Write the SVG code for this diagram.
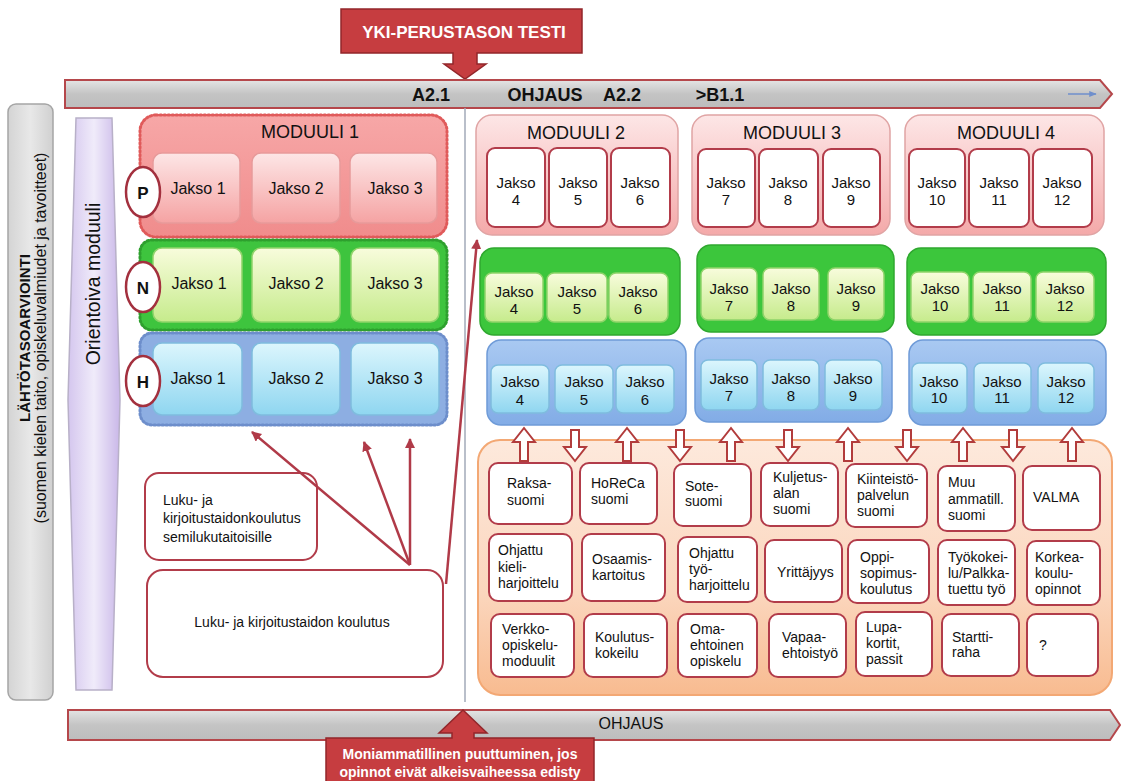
<svg xmlns="http://www.w3.org/2000/svg" width="1122" height="781" viewBox="0 0 1122 781">
<defs>
<linearGradient id="gBar" x1="0" y1="0" x2="0" y2="1"><stop offset="0" stop-color="#e4e4e4"/><stop offset="0.5" stop-color="#c4c4c4"/><stop offset="1" stop-color="#bdbdbd"/></linearGradient>
<linearGradient id="gPinkM1" x1="0" y1="0" x2="0" y2="1"><stop offset="0" stop-color="#f7a7a7"/><stop offset="1" stop-color="#f08c8c"/></linearGradient>
<linearGradient id="gPinkJ" x1="0" y1="0" x2="0" y2="1"><stop offset="0" stop-color="#fde6e6"/><stop offset="1" stop-color="#f5a3a3"/></linearGradient>
<linearGradient id="gGreenJ" x1="0" y1="0" x2="0" y2="1"><stop offset="0" stop-color="#f8fcdc"/><stop offset="1" stop-color="#c6eb8c"/></linearGradient>
<linearGradient id="gBlueJ" x1="0" y1="0" x2="0" y2="1"><stop offset="0" stop-color="#dcf6fd"/><stop offset="1" stop-color="#8fd6f0"/></linearGradient>
<linearGradient id="gBlueBg" x1="0" y1="0" x2="0" y2="1"><stop offset="0" stop-color="#a9c9f2"/><stop offset="1" stop-color="#82ace6"/></linearGradient>
<linearGradient id="gPinkBg" x1="0" y1="0" x2="0" y2="1"><stop offset="0" stop-color="#fde6e6"/><stop offset="1" stop-color="#f4a9a9"/></linearGradient>
<linearGradient id="gOrange" x1="0" y1="0" x2="0" y2="1"><stop offset="0" stop-color="#fde9dc"/><stop offset="0.6" stop-color="#fbd6bd"/><stop offset="1" stop-color="#f8bb90"/></linearGradient>
<linearGradient id="gPurple" x1="0" y1="0" x2="1" y2="0"><stop offset="0" stop-color="#d4c6ee"/><stop offset="0.5" stop-color="#f0ebfa"/><stop offset="1" stop-color="#c9b7e8"/></linearGradient>
<linearGradient id="gGray" x1="0" y1="0" x2="1" y2="0"><stop offset="0" stop-color="#d4d4d4"/><stop offset="0.5" stop-color="#e8e8e8"/><stop offset="1" stop-color="#d0d0d0"/></linearGradient>
<marker id="mArr" viewBox="0 0 10 10" refX="9" refY="5" markerWidth="4" markerHeight="4" orient="auto"><path d="M0,0 L10,5 L0,10 z" fill="#b03a48"/></marker>
<marker id="mBlue" viewBox="0 0 10 10" refX="9" refY="5" markerWidth="5" markerHeight="5" orient="auto"><path d="M0,1 L10,5 L0,9 z" fill="#6f8fcc"/></marker>
</defs>
<style>
text{font-family:"Liberation Sans",Arial,sans-serif;fill:#111;}
.bar{fill:url(#gBar);stroke:#b5474b;stroke-width:2;}
.call{fill:#c63d40;stroke:#92262a;stroke-width:1.5;}
.callT{fill:#fff;font-weight:bold;}
.barT{font-weight:bold;font-size:18px;}
.m1p{fill:url(#gPinkM1);stroke:#e05a5a;stroke-width:3;stroke-dasharray:1.5 2.5;stroke-linecap:round;}
.m1n{fill:#3ec43e;stroke:#2ea02e;stroke-width:3;stroke-dasharray:1.5 2.5;stroke-linecap:round;}
.m1h{fill:#8daee2;stroke:#6d8ecb;stroke-width:3;stroke-dasharray:1.5 2.5;stroke-linecap:round;}
.jp{fill:url(#gPinkJ);stroke:#e79a9a;stroke-width:1.5;}
.jn{fill:url(#gGreenJ);stroke:#8fd46a;stroke-width:1.5;}
.jh{fill:url(#gBlueJ);stroke:#7fbcde;stroke-width:1.5;}
.jw{fill:#fff;stroke:#b23c4a;stroke-width:2;}
.pinkbg{fill:url(#gPinkBg);stroke:#e0a4a4;stroke-width:1.5;}
.greenbg{fill:#3cc63c;stroke:#2fa82f;stroke-width:1.5;}
.bluebg{fill:url(#gBlueBg);stroke:#6f9bd8;stroke-width:1.5;}
.circ{fill:#fff;stroke:#a3303e;stroke-width:2.5;}
.circT{font-weight:bold;font-size:17px;text-anchor:middle;}
.j1{font-size:16px;text-anchor:middle;}
.j2{font-size:15px;text-anchor:middle;}
.mt{font-size:18px;text-anchor:middle;}
.wb{fill:#fff;stroke:#b23c4a;stroke-width:2;}
.bt{font-size:14px;}
.ha{fill:#fff;stroke:#b23c3c;stroke-width:2;stroke-linejoin:miter;}
.ln{stroke:#b03a48;stroke-width:2.5;fill:none;marker-end:url(#mArr);}
</style>

<!-- Top callout -->
<g id="yki-test">
<path class="call" d="M341,9 H582 V53 H477 V64 H486 L465,79 L444,64 H453 V53 H341 Z"/>
<text class="callT" x="464" y="38" font-size="17" text-anchor="middle">YKI-PERUSTASON TESTI</text>
</g>

<!-- Top bar -->
<g id="top-bar">
<path class="bar" d="M65,80 H1100 L1112,94 L1100,108 H65 Z"/>
<text class="barT" x="431" y="101" text-anchor="middle">A2.1</text>
<text class="barT" x="545" y="101" text-anchor="middle">OHJAUS</text>
<text class="barT" x="622" y="101" text-anchor="middle">A2.2</text>
<text class="barT" x="720" y="101" text-anchor="middle">&gt;B1.1</text>
<line x1="1068" y1="94" x2="1096" y2="94" stroke="#6f8fcc" stroke-width="1.5" marker-end="url(#mBlue)"/>
</g>

<!-- Divider -->
<line x1="465" y1="108" x2="465" y2="702" stroke="#a2aab8" stroke-width="1.5"/>

<!-- Left assessment column -->
<g id="lahtotaso">
<rect x="8" y="104" width="45" height="596" rx="8" fill="url(#gGray)" stroke="#a5a5a5" stroke-width="1.5"/>
<text transform="translate(30,338) rotate(-90)" font-size="15" font-weight="bold" text-anchor="middle">LÄHTÖTASOARVIOINTI</text>
<text transform="translate(46,338) rotate(-90)" font-size="16" text-anchor="middle">(suomen kielen taito, opiskeluvalmiudet ja tavoitteet)</text>
</g>

<g id="orientoiva">
<path d="M76,118 L112,118 L120,400 L112,690 L76,690 L68,400 Z" fill="url(#gPurple)" stroke="#b8b0c8" stroke-width="1.5"/>
<text transform="translate(100,284) rotate(-90)" font-size="19.5" text-anchor="middle">Orientoiva moduuli</text>
</g>

<!-- Module 1 -->
<g id="moduuli1-p">
<rect class="m1p" x="140" y="115" width="307" height="122" rx="16"/>
<text class="mt" x="310" y="138">MODUULI 1</text>
<rect class="jp" x="153" y="153" width="87" height="70" rx="9"/>
<rect class="jp" x="252" y="153" width="88" height="70" rx="9"/>
<rect class="jp" x="350" y="153" width="87" height="70" rx="9"/>
<text class="j1" x="198" y="194">Jakso 1</text>
<text class="j1" x="296" y="194">Jakso 2</text>
<text class="j1" x="395" y="194">Jakso 3</text>
</g>
<g id="moduuli1-n">
<rect class="m1n" x="140" y="240" width="307" height="90" rx="12"/>
<rect class="jn" x="153" y="248" width="89" height="74" rx="9"/>
<rect class="jn" x="252" y="248" width="88" height="74" rx="9"/>
<rect class="jn" x="351" y="248" width="88" height="74" rx="9"/>
<text class="j1" x="199" y="289">Jakso 1</text>
<text class="j1" x="296" y="289">Jakso 2</text>
<text class="j1" x="395" y="289">Jakso 3</text>
</g>
<g id="moduuli1-h">
<rect class="m1h" x="140" y="333" width="307" height="92" rx="12"/>
<rect class="jh" x="153" y="343" width="89" height="72" rx="9"/>
<rect class="jh" x="252" y="343" width="88" height="72" rx="9"/>
<rect class="jh" x="351" y="343" width="88" height="72" rx="9"/>
<text class="j1" x="198" y="384">Jakso 1</text>
<text class="j1" x="296" y="384">Jakso 2</text>
<text class="j1" x="395" y="384">Jakso 3</text>
</g>
<g id="circle-p"><ellipse class="circ" cx="143" cy="192" rx="17" ry="25"/><text class="circT" x="143" y="199">P</text></g>
<g id="circle-n"><ellipse class="circ" cx="143" cy="287" rx="17" ry="25"/><text class="circT" x="143" y="294">N</text></g>
<g id="circle-h"><ellipse class="circ" cx="143" cy="381" rx="17" ry="25"/><text class="circT" x="143" y="388">H</text></g>

<!-- Literacy boxes -->
<g id="semilukutaito">
<rect class="wb" x="145" y="473" width="172" height="87" rx="14"/>
<text class="bt" x="163" y="505" font-size="14.5">Luku- ja</text>
<text class="bt" x="163" y="523" font-size="14.5">kirjoitustaidonkoulutus</text>
<text class="bt" x="163" y="542" font-size="14.5">semilukutaitoisille</text>
</g>
<g id="lukutaito">
<rect class="wb" x="147" y="570" width="296" height="107" rx="16"/>
<text class="bt" x="292" y="627" text-anchor="middle">Luku- ja kirjoitustaidon koulutus</text>
</g>

<!-- Modules 2-4 pink -->
<g id="moduuli2-p">
<rect class="pinkbg" x="476" y="115" width="202" height="120" rx="16"/>
<text class="mt" x="576" y="139">MODUULI 2</text>
<rect class="jw" x="487" y="148" width="58" height="79" rx="8"/>
<rect class="jw" x="549" y="148" width="58" height="79" rx="8"/>
<rect class="jw" x="611" y="148" width="59" height="79" rx="8"/>
<text class="j2" x="516" y="188">Jakso</text><text class="j2" x="516" y="205">4</text>
<text class="j2" x="578" y="188">Jakso</text><text class="j2" x="578" y="205">5</text>
<text class="j2" x="640" y="188">Jakso</text><text class="j2" x="640" y="205">6</text>
</g>
<g id="moduuli3-p">
<rect class="pinkbg" x="692" y="115" width="198" height="120" rx="16"/>
<text class="mt" x="792" y="139">MODUULI 3</text>
<rect class="jw" x="698" y="149" width="57" height="78" rx="8"/>
<rect class="jw" x="759" y="149" width="59" height="78" rx="8"/>
<rect class="jw" x="823" y="149" width="57" height="78" rx="8"/>
<text class="j2" x="726" y="188">Jakso</text><text class="j2" x="726" y="205">7</text>
<text class="j2" x="788" y="188">Jakso</text><text class="j2" x="788" y="205">8</text>
<text class="j2" x="851" y="188">Jakso</text><text class="j2" x="851" y="205">9</text>
</g>
<g id="moduuli4-p">
<rect class="pinkbg" x="905" y="115" width="199" height="120" rx="16"/>
<text class="mt" x="1006" y="139">MODUULI 4</text>
<rect class="jw" x="909" y="149" width="56" height="78" rx="8"/>
<rect class="jw" x="969" y="149" width="60" height="78" rx="8"/>
<rect class="jw" x="1033" y="149" width="59" height="78" rx="8"/>
<text class="j2" x="937" y="188">Jakso</text><text class="j2" x="937" y="205">10</text>
<text class="j2" x="999" y="188">Jakso</text><text class="j2" x="999" y="205">11</text>
<text class="j2" x="1062" y="188">Jakso</text><text class="j2" x="1062" y="205">12</text>
</g>

<!-- Green -->
<g id="moduuli2-n">
<rect class="greenbg" x="480" y="248" width="200" height="87" rx="14"/>
<rect class="jn" x="485" y="273" width="58" height="49" rx="7"/>
<rect class="jn" x="547" y="273" width="60" height="49" rx="7"/>
<rect class="jn" x="609" y="273" width="59" height="49" rx="7"/>
<text class="j2" x="514" y="297">Jakso</text><text class="j2" x="514" y="314">4</text>
<text class="j2" x="577" y="297">Jakso</text><text class="j2" x="577" y="314">5</text>
<text class="j2" x="638" y="297">Jakso</text><text class="j2" x="638" y="314">6</text>
</g>
<g id="moduuli3-n">
<rect class="greenbg" x="697" y="245" width="197" height="87" rx="14"/>
<rect class="jn" x="701" y="268" width="56" height="52" rx="7"/>
<rect class="jn" x="763" y="268" width="56" height="52" rx="7"/>
<rect class="jn" x="828" y="268" width="56" height="52" rx="7"/>
<text class="j2" x="729" y="294">Jakso</text><text class="j2" x="729" y="311">7</text>
<text class="j2" x="791" y="294">Jakso</text><text class="j2" x="791" y="311">8</text>
<text class="j2" x="856" y="294">Jakso</text><text class="j2" x="856" y="311">9</text>
</g>
<g id="moduuli4-n">
<rect class="greenbg" x="907" y="248" width="199" height="87" rx="14"/>
<rect class="jn" x="911" y="272" width="58" height="50" rx="7"/>
<rect class="jn" x="973" y="272" width="58" height="50" rx="7"/>
<rect class="jn" x="1036" y="272" width="58" height="50" rx="7"/>
<text class="j2" x="940" y="294">Jakso</text><text class="j2" x="940" y="311">10</text>
<text class="j2" x="1002" y="294">Jakso</text><text class="j2" x="1002" y="311">11</text>
<text class="j2" x="1065" y="294">Jakso</text><text class="j2" x="1065" y="311">12</text>
</g>

<!-- Blue -->
<g id="moduuli2-h">
<rect class="bluebg" x="487" y="340" width="199" height="85" rx="14"/>
<rect class="jh" x="491" y="365" width="58" height="48" rx="7"/>
<rect class="jh" x="555" y="365" width="58" height="48" rx="7"/>
<rect class="jh" x="616" y="365" width="58" height="48" rx="7"/>
<text class="j2" x="520" y="387">Jakso</text><text class="j2" x="520" y="405">4</text>
<text class="j2" x="584" y="387">Jakso</text><text class="j2" x="584" y="405">5</text>
<text class="j2" x="645" y="387">Jakso</text><text class="j2" x="645" y="405">6</text>
</g>
<g id="moduuli3-h">
<rect class="bluebg" x="695" y="338" width="197" height="84" rx="14"/>
<rect class="jh" x="701" y="360" width="56" height="50" rx="7"/>
<rect class="jh" x="763" y="360" width="56" height="50" rx="7"/>
<rect class="jh" x="825" y="360" width="57" height="50" rx="7"/>
<text class="j2" x="729" y="384">Jakso</text><text class="j2" x="729" y="401">7</text>
<text class="j2" x="791" y="384">Jakso</text><text class="j2" x="791" y="401">8</text>
<text class="j2" x="853" y="384">Jakso</text><text class="j2" x="853" y="401">9</text>
</g>
<g id="moduuli4-h">
<rect class="bluebg" x="909" y="340" width="197" height="85" rx="14"/>
<rect class="jh" x="912" y="363" width="55" height="50" rx="7"/>
<rect class="jh" x="974" y="363" width="57" height="50" rx="7"/>
<rect class="jh" x="1038" y="363" width="56" height="50" rx="7"/>
<text class="j2" x="939" y="387">Jakso</text><text class="j2" x="939" y="403">10</text>
<text class="j2" x="1002" y="387">Jakso</text><text class="j2" x="1002" y="403">11</text>
<text class="j2" x="1066" y="387">Jakso</text><text class="j2" x="1066" y="403">12</text>
</g>

<!-- Orange area -->
<g id="tukipalvelut">
<rect x="478" y="440" width="634" height="255" rx="22" fill="url(#gOrange)" stroke="#f3a874" stroke-width="2"/>
</g>

<!-- Connectors -->
<g id="connectors">
<line class="ln" x1="410" y1="565" x2="252" y2="432"/>
<line class="ln" x1="410" y1="565" x2="364" y2="442"/>
<line class="ln" x1="410" y1="565" x2="410" y2="439"/>
<line class="ln" x1="446" y1="584" x2="477" y2="240"/>
<path class="ha" d="M524,428 L535,442 L528,442 L528,461 L520,461 L520,442 L513,442 Z"/>
<path class="ha" d="M575,461 L564,447 L571,447 L571,430 L579,430 L579,447 L586,447 Z"/>
<path class="ha" d="M627,428 L638,442 L631,442 L631,461 L623,461 L623,442 L616,442 Z"/>
<path class="ha" d="M680,461 L669,447 L676,447 L676,430 L684,430 L684,447 L691,447 Z"/>
<path class="ha" d="M731,428 L742,442 L735,442 L735,461 L727,461 L727,442 L720,442 Z"/>
<path class="ha" d="M788,461 L777,447 L784,447 L784,430 L792,430 L792,447 L799,447 Z"/>
<path class="ha" d="M848,428 L859,442 L852,442 L852,461 L844,461 L844,442 L837,442 Z"/>
<path class="ha" d="M907,461 L896,447 L903,447 L903,430 L911,430 L911,447 L918,447 Z"/>
<path class="ha" d="M963,428 L974,442 L967,442 L967,461 L959,461 L959,442 L952,442 Z"/>
<path class="ha" d="M1013,461 L1002,447 L1009,447 L1009,430 L1017,430 L1017,447 L1024,447 Z"/>
<path class="ha" d="M1072,428 L1083,442 L1076,442 L1076,461 L1068,461 L1068,442 L1061,442 Z"/>
</g>

<!-- Grid boxes row 1 -->
<g id="raksa"><rect class="wb" x="489" y="463" width="83" height="61" rx="9"/><text class="bt" x="507" y="488">Raksa-</text><text class="bt" x="507" y="505">suomi</text></g>
<g id="horeca"><rect class="wb" x="580" y="463" width="77" height="61" rx="9"/><text class="bt" x="591" y="488">HoReCa</text><text class="bt" x="591" y="504">suomi</text></g>
<g id="sote"><rect class="wb" x="674" y="464" width="77" height="62" rx="9"/><text class="bt" x="685" y="491">Sote-</text><text class="bt" x="685" y="506">suomi</text></g>
<g id="kuljetus"><rect class="wb" x="761" y="463" width="77" height="63" rx="9"/><text class="bt" x="773" y="482">Kuljetus-</text><text class="bt" x="773" y="498">alan</text><text class="bt" x="773" y="514">suomi</text></g>
<g id="kiinteisto"><rect class="wb" x="846" y="464" width="81" height="63" rx="9"/><text class="bt" x="857" y="484">Kiinteistö-</text><text class="bt" x="857" y="500">palvelun</text><text class="bt" x="857" y="516">suomi</text></g>
<g id="muu"><rect class="wb" x="938" y="466" width="77" height="65" rx="9"/><text class="bt" x="948" y="487">Muu</text><text class="bt" x="948" y="504">ammatill.</text><text class="bt" x="948" y="520">suomi</text></g>
<g id="valma"><rect class="wb" x="1023" y="466" width="77" height="64" rx="9"/><text class="bt" x="1033" y="502">VALMA</text></g>

<!-- Row 2 -->
<g id="kieliharjoittelu"><rect class="wb" x="489" y="534" width="83" height="67" rx="9"/><text class="bt" x="498" y="555">Ohjattu</text><text class="bt" x="498" y="572">kieli-</text><text class="bt" x="498" y="588">harjoittelu</text></g>
<g id="osaamiskartoitus"><rect class="wb" x="582" y="534" width="83" height="67" rx="9"/><text class="bt" x="592" y="564">Osaamis-</text><text class="bt" x="592" y="580">kartoitus</text></g>
<g id="tyoharjoittelu"><rect class="wb" x="678" y="537" width="79" height="65" rx="9"/><text class="bt" x="689" y="558">Ohjattu</text><text class="bt" x="689" y="574">työ-</text><text class="bt" x="689" y="590">harjoittelu</text></g>
<g id="yrittajyys"><rect class="wb" x="765" y="540" width="77" height="62" rx="9"/><text class="bt" x="777" y="577">Yrittäjyys</text></g>
<g id="oppisopimus"><rect class="wb" x="848" y="540" width="81" height="63" rx="9"/><text class="bt" x="860" y="562">Oppi-</text><text class="bt" x="860" y="578">sopimus-</text><text class="bt" x="860" y="594">koulutus</text></g>
<g id="tyokokeilu"><rect class="wb" x="938" y="540" width="77" height="65" rx="9"/><text class="bt" x="948" y="562">Työkokei-</text><text class="bt" x="948" y="578">lu/Palkka-</text><text class="bt" x="948" y="594">tuettu työ</text></g>
<g id="korkeakoulu"><rect class="wb" x="1027" y="541" width="73" height="64" rx="9"/><text class="bt" x="1035" y="562">Korkea-</text><text class="bt" x="1035" y="578">koulu-</text><text class="bt" x="1035" y="594">opinnot</text></g>

<!-- Row 3 -->
<g id="verkko"><rect class="wb" x="491" y="614" width="83" height="63" rx="9"/><text class="bt" x="502" y="634">Verkko-</text><text class="bt" x="502" y="650">opiskelu-</text><text class="bt" x="502" y="666">moduulit</text></g>
<g id="koulutuskokeilu"><rect class="wb" x="584" y="614" width="83" height="63" rx="9"/><text class="bt" x="595" y="642">Koulutus-</text><text class="bt" x="595" y="658">kokeilu</text></g>
<g id="omaehtoinen"><rect class="wb" x="678" y="614" width="79" height="63" rx="9"/><text class="bt" x="690" y="634">Oma-</text><text class="bt" x="690" y="650">ehtoinen</text><text class="bt" x="690" y="666">opiskelu</text></g>
<g id="vapaaehtoistyo"><rect class="wb" x="769" y="614" width="77" height="63" rx="9"/><text class="bt" x="782" y="642">Vapaa-</text><text class="bt" x="782" y="658">ehtoistyö</text></g>
<g id="lupakortit"><rect class="wb" x="856" y="612" width="76" height="64" rx="9"/><text class="bt" x="866" y="632">Lupa-</text><text class="bt" x="866" y="648">kortit,</text><text class="bt" x="866" y="664">passit</text></g>
<g id="starttiraha"><rect class="wb" x="942" y="614" width="77" height="62" rx="9"/><text class="bt" x="952" y="642">Startti-</text><text class="bt" x="952" y="657">raha</text></g>
<g id="kysymys"><rect class="wb" x="1027" y="614" width="71" height="62" rx="9"/><text class="bt" x="1039" y="650">?</text></g>

<!-- Bottom bar -->
<g id="bottom-bar">
<path class="bar" d="M68,710 H1110 L1120,725 L1110,740 H68 Z"/>
<text x="631" y="729" font-size="16" text-anchor="middle">OHJAUS</text>
</g>

<!-- Bottom callout -->
<g id="moniammatillinen">
<path class="call" d="M326,738 H452 V733 H439 L463,710 L487,733 H474 V738 H594 V782 H326 Z"/>
<text class="callT" x="460" y="759" font-size="14" text-anchor="middle">Moniammatillinen puuttuminen, jos</text>
<text class="callT" x="460" y="777" font-size="14" text-anchor="middle">opinnot eivät alkeisvaiheessa edisty</text>
</g>
</svg>
